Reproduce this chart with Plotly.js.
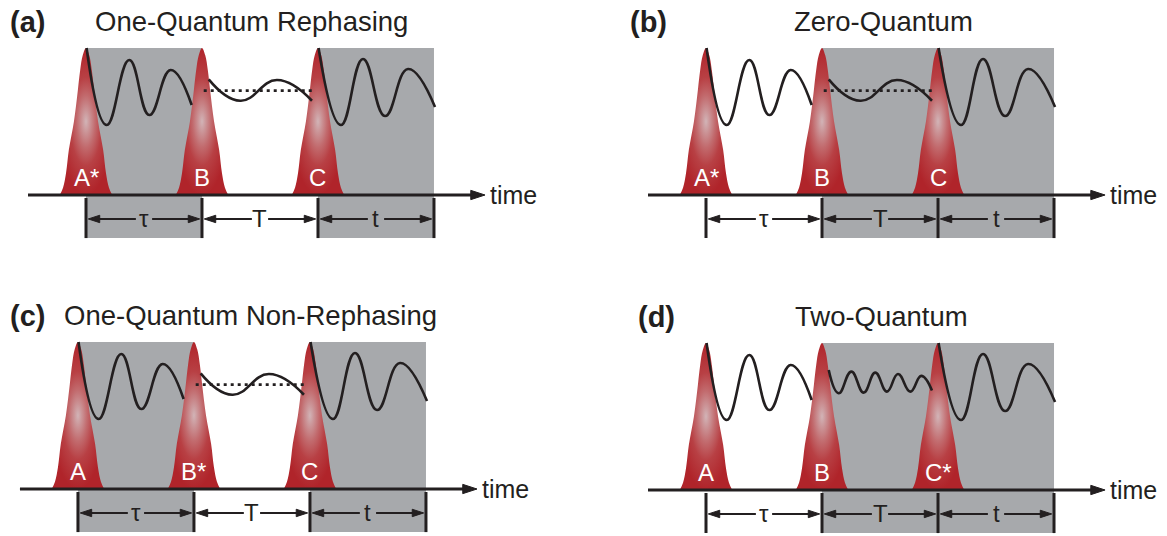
<!DOCTYPE html>
<html><head><meta charset="utf-8">
<script src="https://cdn.plot.ly/plotly-3.0.1.min.js"></script>
<style>html,body{margin:0;padding:0;background:#fff}#chart{width:1167px;height:536px}</style>
</head><body><div id="chart"></div>
<script>
// ---------------- data ----------------
const panelTags = ['(a)', '(b)', '(c)', '(d)'];
const panelTitles = ['One-Quantum Rephasing', 'Zero-Quantum', 'One-Quantum Non-Rephasing', 'Two-Quantum'];
const pulseTimes = [0, 1, 2];
const pulseLabels = [['A*', 'B', 'C'], ['A*', 'B', 'C'], ['A', 'B*', 'C'], ['A', 'B', 'C*']];
const intervalEdges = [0, 1, 2, 3];
const intervalLabels = ['τ', 'T', 't'];
const shadedIntervals = [[0, 2], [1, 2], [0, 2], [1, 2]];
const waitingKind = ['slow', 'slow', 'slow', 'fast'];
const hasDottedMean = [true, true, true, false];

// pulse envelope (half profile): height vs half-width (time units)
const pulseHeight = [1, 0.95, 0.85, 0.714, 0.5, 0.306, 0.15, 0.05, 0];
const pulseHalfWidth = [0, 0.028, 0.050, 0.070, 0.104, 0.148, 0.172, 0.198, 0.226];

// coherence during tau: time after pulse, amplitude
const tauWaveDt = [0.005, 0.178, 0.373, 0.546, 0.730, 0.911];
const tauWaveAmp = [1.0, 0.476, 0.918, 0.544, 0.850, 0.612];
// signal during t
const tWaveDt = [0.005, 0.198, 0.388, 0.578, 0.776, 1.009];
const tWaveAmp = [1.0, 0.476, 0.925, 0.537, 0.857, 0.599];
// slow oscillation during T
const slowWaveDt = [0.058, 0.330, 0.647, 0.948];
const slowWaveAmp = [0.787, 0.641, 0.782, 0.641];
const dottedDt = [0.015, 0.974];
const dottedAmp = [0.71, 0.71];
// fast oscillation during T (two-quantum)
const fastWaveDt = [0.058, 0.144, 0.253, 0.359, 0.459, 0.560, 0.655, 0.761, 0.856, 0.948];
const fastWaveAmp = [0.816, 0.658, 0.805, 0.662, 0.798, 0.669, 0.789, 0.669, 0.776, 0.676];

// ---------------- layout / style ----------------
const FONT = "'Liberation Sans', Arial, Helvetica, sans-serif";
const GRAY = '#a7a9ac';
const INK = '#231f20';
const geom = [
  {xd: [0, 0.5], yd: [0.5, 1], xr: [-0.7414, 4.289], yr: [-0.4966, 1.3265], tagX: -0.672, titleX: 1.431, headY: 1.18},
  {xd: [0.5, 1], yd: [0.5, 1], xr: [-1.056, 3.974], yr: [-0.4966, 1.3265], tagX: -0.672, titleX: 1.530, headY: 1.18},
  {xd: [0, 0.5], yd: [0, 0.5], xr: [-0.672, 4.358], yr: [-0.3197, 1.5034], tagX: -0.603, titleX: 1.487, headY: 1.18},
  {xd: [0.5, 1], yd: [0, 0.5], xr: [-1.056, 3.974], yr: [-0.313, 1.510], tagX: -0.603, titleX: 1.509, headY: 1.18}
];
const axisStart = -0.5, axisTip = 3.44;
const barBottom = -0.293, barTop = -0.02, arrowY = -0.163, labelGap = 0.07, tipPad = 0.02;

const traces = [], shapes = [], annotations = [];
const layout = {
  width: 1167, height: 536, margin: {l: 0, r: 0, t: 0, b: 0},
  paper_bgcolor: '#fff', plot_bgcolor: 'rgba(0,0,0,0)', showlegend: false,
  font: {family: FONT, color: INK}
};

geom.forEach((g, p) => {
  const sfx = p === 0 ? '' : String(p + 1);
  const xa = 'x' + sfx, ya = 'y' + sfx;
  layout['xaxis' + sfx] = {domain: g.xd, range: g.xr, visible: false, fixedrange: true, anchor: ya};
  layout['yaxis' + sfx] = {domain: g.yd, range: g.yr, visible: false, fixedrange: true, anchor: xa};

  // shaded intervals
  shadedIntervals[p].forEach(k => shapes.push({
    type: 'rect', xref: xa, yref: ya, layer: 'below',
    x0: intervalEdges[k], x1: intervalEdges[k + 1], y0: barBottom, y1: 1,
    fillcolor: GRAY, line: {width: 0}
  }));

  // pulses
  pulseTimes.forEach((tp, i) => {
    const xs = [], ys = [];
    for (let j = pulseHeight.length - 1; j >= 0; j--) { xs.push(tp - pulseHalfWidth[j]); ys.push(pulseHeight[j]); }
    for (let j = 1; j < pulseHeight.length; j++) { xs.push(tp + pulseHalfWidth[j]); ys.push(pulseHeight[j]); }
    traces.push({
      type: 'scatter', mode: 'lines', x: xs, y: ys, xaxis: xa, yaxis: ya,
      line: {width: 0, shape: 'spline', color: 'rgba(0,0,0,0)'}, fill: 'toself', fillcolor: '#b3262b',
      fillgradient: {type: 'radial', colorscale: [[0, '#d2b4b7'], [0.15, '#cb9497'], [0.35, '#c26b6e'], [0.6, '#b84044'], [1, '#b0242a']]},
      hoverinfo: 'skip'
    });
    annotations.push({
      xref: xa, yref: ya, x: tp, y: 0.118, text: pulseLabels[p][i], showarrow: false,
      font: {family: FONT, size: 24, color: '#ffffff'}, xanchor: 'center', yanchor: 'middle'
    });
  });

  // waves
  const wave = (dt, amp, t0, dash) => traces.push({
    type: 'scatter', mode: 'lines', xaxis: xa, yaxis: ya,
    x: dt.map(d => t0 + d), y: amp,
    line: {color: INK, width: 2.6, shape: dash ? 'linear' : 'spline', smoothing: 1.3, dash: dash || 'solid'}, hoverinfo: 'skip'
  });
  wave(tauWaveDt, tauWaveAmp, pulseTimes[0]);
  if (waitingKind[p] === 'slow') wave(slowWaveDt, slowWaveAmp, pulseTimes[1]);
  else wave(fastWaveDt, fastWaveAmp, pulseTimes[1]);
  if (hasDottedMean[p]) wave(dottedDt, dottedAmp, pulseTimes[1], '3px,4px');
  wave(tWaveDt, tWaveAmp, pulseTimes[2]);

  // time axis
  traces.push({type: 'scatter', mode: 'lines', xaxis: xa, yaxis: ya, x: [axisStart, axisTip - 0.06], y: [0, 0],
    line: {color: INK, width: 3}, hoverinfo: 'skip'});
  traces.push({type: 'scatter', mode: 'markers', xaxis: xa, yaxis: ya, x: [axisTip], y: [0],
    marker: {symbol: 'arrow', angle: 90, size: 15, color: INK, line: {width: 1, color: INK}}, hoverinfo: 'skip'});
  annotations.push({xref: xa, yref: ya, x: axisTip + 0.025, y: 0.0, text: 'time', showarrow: false,
    xanchor: 'left', yanchor: 'middle', font: {family: FONT, size: 25, color: INK}});

  // interval bars
  intervalEdges.forEach(e => traces.push({type: 'scatter', mode: 'lines', xaxis: xa, yaxis: ya,
    x: [e, e], y: [barTop, barBottom], line: {color: INK, width: 3}, hoverinfo: 'skip'}));

  // interval arrows + labels
  intervalLabels.forEach((lab, k) => {
    const a = intervalEdges[k], b = intervalEdges[k + 1], m = (a + b) / 2;
    traces.push({type: 'scatter', mode: 'lines', xaxis: xa, yaxis: ya,
      x: [a + tipPad + 0.04, m - labelGap, null, m + labelGap, b - tipPad - 0.04], y: [arrowY, arrowY, null, arrowY, arrowY],
      line: {color: INK, width: 2}, hoverinfo: 'skip'});
    traces.push({type: 'scatter', mode: 'markers', xaxis: xa, yaxis: ya,
      x: [a + tipPad, b - tipPad], y: [arrowY, arrowY],
      marker: {symbol: 'arrow', angle: [-90, 90], size: 12, color: INK, line: {width: 1, color: INK}}, hoverinfo: 'skip'});
    annotations.push({xref: xa, yref: ya, x: m, y: arrowY, text: lab, showarrow: false,
      xanchor: 'center', yanchor: 'middle', font: {family: FONT, size: 24, color: INK}});
  });

  // panel tag and title
  annotations.push({xref: xa, yref: ya, x: g.tagX, y: g.headY, text: '<b>' + panelTags[p] + '</b>', showarrow: false,
    xanchor: 'left', yanchor: 'middle', font: {family: FONT, size: 29, color: INK}});
  annotations.push({xref: xa, yref: ya, x: g.titleX, y: g.headY, text: panelTitles[p], showarrow: false,
    xanchor: 'center', yanchor: 'middle', font: {family: FONT, size: 27.5, color: INK}});
});

layout.shapes = shapes;
layout.annotations = annotations;
Plotly.newPlot('chart', traces, layout, {displayModeBar: false, staticPlot: true});
</script></body></html>
